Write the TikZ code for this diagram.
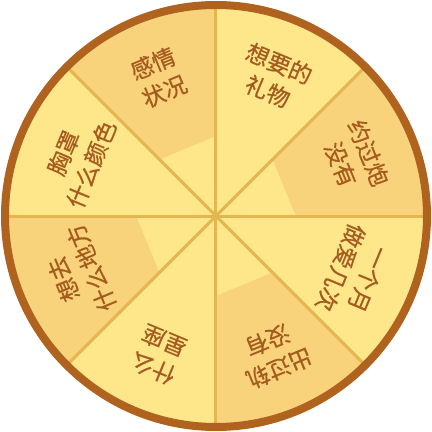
\documentclass[tikz,border=0pt]{standalone}
\usepackage{fontspec}
\newfontfamily\cjk[FakeBold=0.6]{Noto Sans CJK SC}
\definecolor{lightY}{HTML}{FEE78B}
\definecolor{darkY}{HTML}{F9D37B}
\definecolor{ringB}{HTML}{B0621F}
\definecolor{textB}{HTML}{A65B1E}
\definecolor{lineY}{HTML}{E3B64F}
\tikzset{
  lbl/.style={text=textB, align=center, font=\cjk\fontsize{23}{30}\selectfont, inner sep=0pt},
  divider/.style={draw=lineY, line width=3pt},
  darkpart/.style={fill=darkY},
}
\begin{document}
\begin{tikzpicture}[x=1pt,y=1pt]
\useasboundingbox (-216,-216) rectangle (216,216);
\fill[lightY] (0,0) circle (210);
% darker outer parts
\foreach \a in {0,90,180,270}{
  \fill[darkY] (\a:80) -- (\a:210) arc (\a:\a+45:210) -- (\a+45:80) -- cycle;
}
% dividers
\coordinate (c) at (0,0);
\foreach \a in {0,45,...,315}{
  \coordinate (e\a) at (\a:208);
  \draw[divider] (c) -- (e\a);
}
% ring
\draw[ringB, line width=8pt] (c) circle (211);
% labels
\node[lbl, rotate=-67.5] (t1) at (22.5:150) {约过炮\\没有};
\node[lbl, rotate=-22.5] (t2) at (67.5:150) {想要的\\礼物};
\node[lbl, rotate=22.5] (t3) at (112.5:150) {感情\\状况};
\node[lbl, rotate=67.5] (t4) at (157.5:150) {胸罩\\什么颜色};
\node[lbl, rotate=112.5] (t5) at (202.5:150) {想去\\什么地方};
\node[lbl, rotate=157.5] (t6) at (247.5:150) {什么\\星座};
\node[lbl, rotate=-157.5] (t7) at (292.5:150) {出过轨\\没有};
\node[lbl, rotate=-112.5] (t8) at (337.5:150) {一个月\\做爱几次};
\end{tikzpicture}
\end{document}
